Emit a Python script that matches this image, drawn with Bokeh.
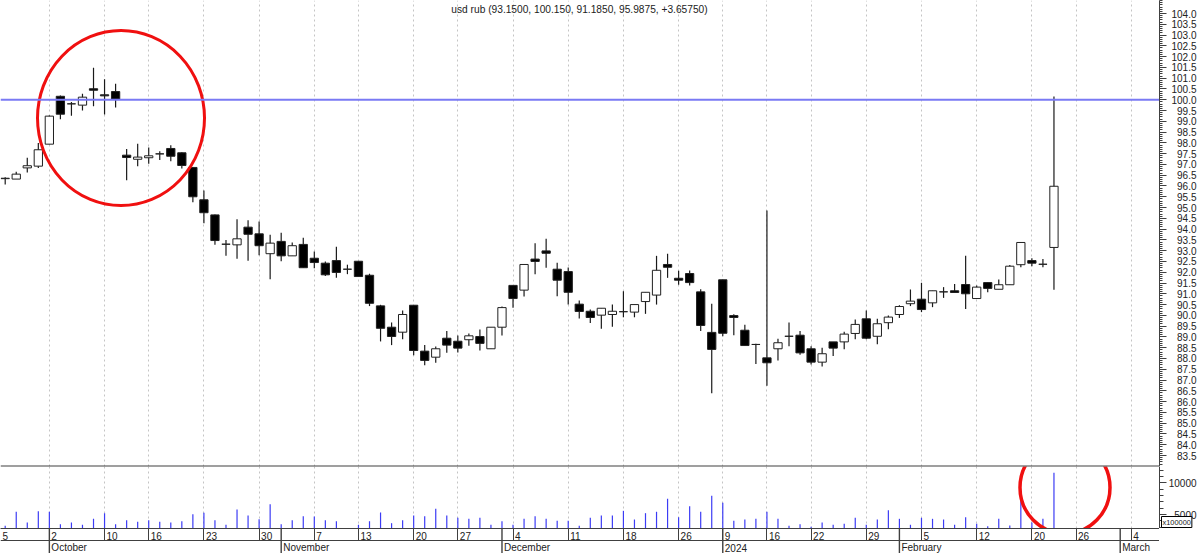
from bokeh.core.properties import value
from bokeh.embed import file_html
from bokeh.layouts import column, row
from bokeh.models import ColumnDataSource, FixedTicker, Grid, Label, LinearAxis, Range1d, Span
from bokeh.plotting import figure
from bokeh.resources import INLINE
import numpy as np

# one row per trading day, usd rub
opens = [96.34, 96.32, 96.84, 96.92, 97.94, 100.16, 99.81, 99.75, 100.51, 100.23,
         100.38, 97.43, 97.24, 97.31, 97.49, 97.74, 97.54, 96.86, 95.36, 94.66,
         93.30, 93.27, 94.09, 93.78, 92.86, 93.43, 92.76, 93.29, 92.65, 92.42,
         92.54, 92.14, 92.51, 91.86, 90.44, 89.45, 89.22, 90.47, 88.34, 88.06,
         88.94, 88.80, 88.87, 89.02, 88.45, 89.45, 91.39, 91.17, 92.61, 92.99,
         92.14, 92.03, 90.52, 90.19, 90.01, 90.04, 90.17, 90.15, 90.64, 90.94,
         92.36, 91.72, 91.94, 91.09, 89.21, 91.65, 89.99, 89.31, 88.65, 88.03,
         88.45, 89.03, 89.08, 88.45, 87.83, 88.77, 88.77, 89.16, 89.84, 89.03,
         89.66, 90.04, 90.54, 90.75, 90.58, 91.09, 91.14, 91.43, 90.78, 91.52,
         91.21, 91.42, 92.35, 92.54, 92.37, 93.15]
highs = [96.41, 96.66, 97.31, 97.99, 99.27, 100.20, 99.89, 100.28, 101.48, 100.95,
         100.74, 97.71, 97.96, 97.79, 97.61, 97.89, 97.57, 96.87, 95.79, 94.68,
         93.50, 94.46, 94.41, 94.35, 93.74, 93.83, 93.38, 93.60, 92.96, 92.50,
         93.18, 92.35, 92.51, 91.93, 90.49, 89.67, 90.23, 90.47, 88.63, 88.56,
         89.28, 89.07, 89.16, 89.34, 89.45, 90.41, 91.39, 92.36, 93.35, 93.55,
         92.44, 92.22, 90.69, 90.27, 90.33, 90.50, 91.12, 90.50, 91.07, 92.76,
         92.86, 92.07, 92.08, 91.21, 90.54, 91.65, 90.05, 89.56, 88.68, 94.86,
         88.91, 89.67, 89.27, 88.57, 88.50, 88.77, 89.24, 89.81, 90.23, 89.84,
         89.99, 90.47, 91.20, 91.51, 91.14, 91.31, 91.46, 92.76, 91.39, 91.52,
         91.66, 92.33, 93.39, 92.65, 92.61, 100.15]
lows = [96.07, 96.32, 96.63, 96.84, 97.94, 99.10, 99.26, 99.50, 99.70, 99.32,
        99.64, 96.27, 96.92, 97.03, 97.20, 97.15, 96.81, 95.25, 94.27, 93.27,
        92.76, 92.62, 92.53, 92.79, 91.68, 92.51, 92.76, 92.21, 92.19, 91.83,
        91.74, 91.91, 91.80, 90.43, 88.79, 88.62, 88.89, 88.15, 87.69, 87.80,
        88.26, 88.28, 88.59, 88.37, 88.45, 89.07, 90.35, 90.88, 91.91, 92.21,
        90.89, 90.50, 89.85, 89.64, 89.38, 89.47, 89.91, 89.91, 90.07, 90.50,
        91.74, 91.42, 91.39, 89.28, 86.39, 89.03, 89.08, 88.59, 87.74, 86.73,
        87.91, 88.57, 88.17, 87.72, 87.63, 88.11, 88.43, 88.89, 88.89, 88.66,
        89.36, 89.88, 90.43, 90.15, 90.38, 90.81, 91.06, 90.29, 90.78, 91.07,
        91.21, 91.42, 92.23, 92.28, 92.23, 91.185]
closes = [96.36, 96.55, 96.94, 97.68, 99.24, 99.33, 99.81, 100.12, 100.44, 100.18,
          100.03, 97.32, 97.34, 97.40, 97.49, 97.38, 96.95, 95.50, 94.76, 93.47,
          93.30, 93.55, 93.76, 93.23, 93.35, 92.76, 93.23, 92.21, 92.45, 91.88,
          91.99, 92.14, 91.80, 90.56, 89.40, 89.02, 90.04, 88.37, 87.91, 88.45,
          88.62, 88.48, 89.05, 88.70, 89.45, 90.36, 90.78, 92.36, 92.50, 92.88,
          91.63, 91.07, 90.18, 89.90, 90.33, 90.19, 90.17, 90.50, 91.07, 92.09,
          92.23, 91.63, 91.52, 89.53, 88.42, 89.17, 89.90, 88.60, 88.65, 87.80,
          88.73, 89.03, 88.26, 87.83, 88.22, 88.48, 89.13, 89.58, 88.94, 89.61,
          89.92, 90.41, 90.66, 90.27, 91.14, 91.09, 91.06, 91.00, 91.31, 91.25,
          91.42, 92.28, 93.38, 92.42, 92.37, 95.9875]
# in units of x100000
volumes = [3220, 5430, 3740, 5520, 5430, 3470, 3740, 3380, 4320, 5210,
           3470, 4100, 3850, 4100, 3850, 3740, 3940, 5050, 5270, 4100,
           3380, 5790, 4840, 4260, 6620, 3470, 4100, 4730, 4680, 4100,
           3940, 2800, 3380, 3940, 5320, 3630, 4100, 4840, 4730, 5900,
           4840, 4480, 4320, 4480, 3380, 3940, 3380, 4320, 4730, 4320,
           4010, 4010, 3220, 4480, 4840, 4840, 5580, 4210, 5210, 5430,
           7480, 4570, 6310, 5430, 7950, 6850, 4010, 4210, 4320, 5430,
           4320, 3220, 3470, 3060, 3740, 3380, 3530, 4480, 3380, 4210,
           5680, 4320, 3380, 4480, 4320, 4210, 3380, 4570, 3530, 3160,
           4320, 3270, 7410, 3740, 4320, 11580]

day_ticks = [-0.43, 4, 9, 13, 18, 23, 28, 32, 37, 41, 46, 51, 56, 61, 65, 69, 73, 78, 83, 88, 93, 97, 102]
day_labels = ["5", "2", "10", "16", "23", "30", "7", "13", "20", "27", "4", "11",
              "18", "26", "9", "16", "22", "29", "5", "12", "20", "26", "4"]
month_ticks = [4, 25, 45, 65, 81, 101]
month_labels = ["October", "November", "December", "2024", "February", "March"]

price_ticks = [83.5, 84.0, 84.5, 85.0, 85.5, 86.0, 86.5, 87.0, 87.5, 88.0, 88.5, 89.0, 89.5, 90.0,
               90.5, 91.0, 91.5, 92.0, 92.5, 93.0, 93.5, 94.0, 94.5, 95.0, 95.5, 96.0, 96.5, 97.0,
               97.5, 98.0, 98.5, 99.0, 99.5, 100.0, 100.5, 101.0, 101.5, 102.0, 102.5, 103.0, 103.5, 104.0]
volume_ticks = [5000, 10000]
volume_labels = ["5000", "10000"]

FONT = "Liberation Sans"
AXIS_COLOR = "#404040"
TEXT_COLOR = "#222222"
x = np.arange(len(closes))
x_range = Range1d(-0.4257, 104.56)
price_range = Range1d(82.99, 104.603)
volume_range = Range1d(2792, 12571)


def make_axis(ticks, minor, tick_len, minor_len):
    # ticks point into the frame, labels are drawn as text glyphs
    ax = LinearAxis(ticker=FixedTicker(ticks=ticks, minor_ticks=minor))
    ax.major_tick_in = tick_len
    ax.major_tick_out = 0
    ax.minor_tick_in = minor_len
    ax.minor_tick_out = 0
    ax.axis_line_color = AXIS_COLOR
    ax.major_tick_line_color = AXIS_COLOR
    ax.minor_tick_line_color = AXIS_COLOR
    ax.major_label_text_font_size = "0px"
    ax.major_label_standoff = 0
    ax.major_label_overrides = {t: "" for t in ticks}
    return ax


def base_figure(width, height, xr, yr):
    f = figure(width=width, height=height, x_range=xr, y_range=yr, output_backend="svg",
               toolbar_location=None, x_axis_location=None, y_axis_location=None)
    f.min_border = 0
    f.outline_line_color = None
    f.grid.visible = False
    return f


def add_day_grid(f):
    grid = Grid(dimension=0, ticker=FixedTicker(ticks=day_ticks[1:]))
    grid.grid_line_color = "#c4c4c4"
    grid.grid_line_dash = "2 3"
    f.add_layout(grid)


def draw_labels(f, xs, ys, texts, size, align="left", x_offset=0):
    f.text(xs, ys, text=texts, text_font=value(FONT), text_font_size=value(size), text_color=TEXT_COLOR,
           text_align=align, text_baseline="middle", x_offset=x_offset)


# price pane
p = base_figure(1159, 466, x_range, price_range)
add_day_grid(p)
p.add_layout(Span(location=100, dimension="width", line_color="#7a7af4", line_width=2))
p.add_layout(Span(location=82.99, dimension="width", line_color=AXIS_COLOR, line_width=2))

candles = ColumnDataSource(data=dict(x=x, open=opens, high=highs, low=lows, close=closes))
p.segment("x", "high", "x", "low", source=candles, line_color="#1a1a1a", line_width=1.2)
up = [c >= o for o, c in zip(opens, closes)]
body_top = [max(o, c) for o, c in zip(opens, closes)]
body_bot = [min(o, c) for o, c in zip(opens, closes)]
fills = ["white" if u else "black" for u in up]
bodies = ColumnDataSource(data=dict(x=x, top=body_top, bottom=body_bot, fill=fills))
p.vbar("x", 0.75, "bottom", "top", source=bodies, fill_color="fill", line_color="#202020", line_width=1)

p.ellipse(x=[10.49], y=[99.15], width=[167], height=[175], width_units="screen", height_units="screen",
          fill_color=None, line_color="#f01010", line_width=3)
p.add_layout(Label(x=579, y=457, x_units="screen", y_units="screen",
                   text="usd rub (93.1500, 100.150, 91.1850, 95.9875, +3.65750)",
                   text_font=FONT, text_font_size="10.2px", text_color=TEXT_COLOR,
                   text_align="center", text_baseline="middle"))

# price scale
ps = base_figure(41, 466, Range1d(0, 41), price_range)
ps.add_layout(make_axis(price_ticks, [round(82.9 + 0.1 * k, 1) for k in range(218)], 7, 3), "left")
draw_labels(ps, [37] * len(price_ticks), price_ticks, ["%.1f" % t for t in price_ticks], "10px", "right")

# volume pane
v = base_figure(1159, 62, x_range, volume_range)
add_day_grid(v)
v.add_layout(Span(location=12571, dimension="width", line_color=AXIS_COLOR, line_width=1))
v.segment(x, [2792] * len(x), x, volumes, line_color="#3c3cf5", line_width=1.2)
v.ellipse(x=[96], y=[9258], width=[90], height=[92], width_units="screen", height_units="screen",
          fill_color=None, line_color="#f01010", line_width=3.5)

# volume scale
vs = base_figure(41, 62, Range1d(0, 41), volume_range)
vs.add_layout(make_axis(volume_ticks, [3000, 4000, 5000, 6000, 7000, 8000, 9000, 10000, 11000, 12000], 7, 4), "left")
draw_labels(vs, [37, 37], volume_ticks, volume_labels, "10px", "right")
vs.add_layout(Label(x=2, y=1, x_units="screen", y_units="screen", text="x100000",
                    text_font=FONT, text_font_size="7.4px", text_color=TEXT_COLOR,
                    background_fill_color="white", border_line_color="black", padding=1))

# date strip below the panes
d = base_figure(1159, 25, x_range, Range1d(0, 25))
d.add_layout(make_axis(day_ticks[1:], [], 12, 0), "above")
d.segment(x_range.start, 13, x_range.end, 13, line_color=AXIS_COLOR, line_width=1)
d.segment(month_ticks, [0] * len(month_ticks), month_ticks, [25] * len(month_ticks),
          line_color=AXIS_COLOR, line_width=1.4)
draw_labels(d, day_ticks, [18] * len(day_ticks), day_labels, "10px", x_offset=2)
draw_labels(d, month_ticks, [6] * len(month_ticks), month_labels, "10px", x_offset=2)

page = column(row(p, ps, spacing=0), row(v, vs, spacing=0), d, spacing=0)
open("out.html", "w").write(file_html(page, INLINE))
